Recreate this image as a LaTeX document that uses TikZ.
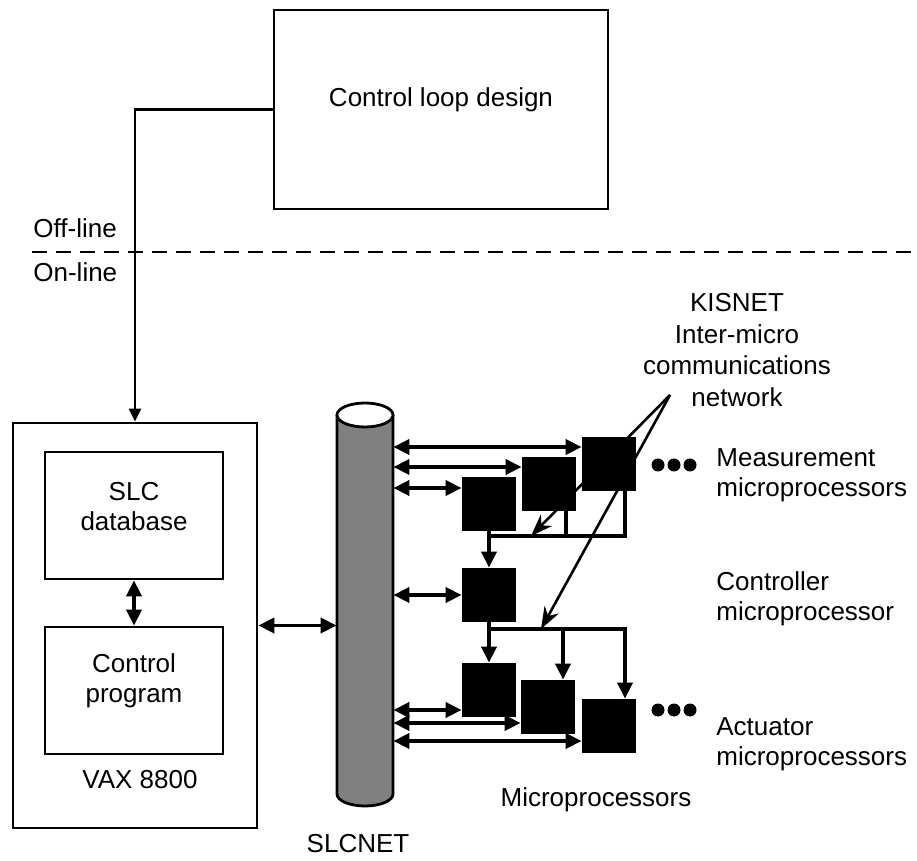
\documentclass[tikz,border=0pt]{standalone}
\usepackage{fontspec}
\setmainfont{Liberation Sans}
\usetikzlibrary{arrows.meta,fit}

\begin{document}
\begin{tikzpicture}[x=0.5pt, y=-0.5pt, font=\fontsize{13}{15}\selectfont,
  >={Triangle[length=8pt, width=7.5pt]}]
\useasboundingbox (0,0) rectangle (917,861);

\coordinate (KisnetTip) at (670,395);
\coordinate (MeasTap) at (531,536);
\coordinate (CtrlTap) at (541,629);
\coordinate (MeasBus) at (489,536);
\coordinate (CtrlBus) at (489,629);
\coordinate (SplitL) at (32,252);
\coordinate (SplitR) at (917,252);


\draw[line width=1.2pt, dash pattern=on 7.5pt off 4.5pt] (SplitL) -- (SplitR);
\draw[line width=1.3pt, -{Stealth[length=11pt, width=8pt]}] (KisnetTip) -- (MeasTap);
\draw[line width=1.3pt, -{Stealth[length=11pt, width=8pt]}] (KisnetTip) -- (CtrlTap);


\tikzset{BoxStyle/.style = {draw, line width=1.4pt, inner sep=0pt, align=center} }

\node[BoxStyle, fit={(274,10) (608,209)}] (Design) {Control loop design};
\node[BoxStyle, fit={(13,423) (257,828)}] (Vax) {};
\node[BoxStyle, fit={(45,452) (223,579)}] (Db) {SLC\\database};
\node[BoxStyle, fit={(45,627) (223,754)}] (Prog) {Control\\program};

\draw[line width=1.4pt, fill=black!50] (337,415) -- (337,794)
  arc[start angle=180, end angle=0, x radius=28, y radius=12] -- (393,415);
\draw[line width=1.4pt, fill=white] (365,415) ellipse[x radius=28, y radius=12];
\node[inner sep=0pt, fit={(337,415) (393,794)}] (Slcnet) {};


\tikzset{ChipStyle/.style = {
 fill = black,
 inner sep = 0pt,
 minimum size = 27pt} }

\node[ChipStyle] (Meas1) at (609,464) {};
\node[ChipStyle] (Meas2) at (549,484) {};
\node[ChipStyle] (Meas3) at (489,504) {};
\node[ChipStyle] (Ctrl) at (489,595) {};
\node[ChipStyle] (Act1) at (489,690) {};
\node[ChipStyle] (Act2) at (548,707) {};
\node[ChipStyle] (Act3) at (609,726) {};


\tikzset{DuplexStyle/.style = {line width=1.9pt, <->} }
\tikzset{WireStyle/.style = {line width=1.9pt} }

\draw[line width=1.2pt, -{Triangle[length=6.5pt, width=6pt]}] (Design.west) -| (Vax.north);
\draw[ DuplexStyle] (Db.south) -- (Prog.north);
\draw[ DuplexStyle] (Vax.east) -- (Vax.east -| Slcnet.west);

\draw[ DuplexStyle] ([yshift=8.5pt]Meas1.west -| Slcnet.east) -- ([yshift=8.5pt]Meas1.west);
\draw[ DuplexStyle] ([yshift=8.5pt]Meas2.west -| Slcnet.east) -- ([yshift=8.5pt]Meas2.west);
\draw[ DuplexStyle] ([yshift=8pt]Meas3.west -| Slcnet.east) -- ([yshift=8pt]Meas3.west);
\draw[ DuplexStyle] (Ctrl.west -| Slcnet.east) -- (Ctrl.west);
\draw[ DuplexStyle] ([yshift=-10pt]Act1.west -| Slcnet.east) -- ([yshift=-10pt]Act1.west);
\draw[ DuplexStyle] ([yshift=-8pt]Act2.west -| Slcnet.east) -- ([yshift=-8pt]Act2.west);
\draw[ DuplexStyle] ([yshift=-7.5pt]Act3.west -| Slcnet.east) -- ([yshift=-7.5pt]Act3.west);

\draw[ WireStyle] ([xshift=8pt]Meas1.south) |- (MeasBus);
\draw[ WireStyle] ([xshift=8.5pt]Meas2.south) -- ([xshift=8.5pt]Meas2.south |- MeasBus);
\draw[ WireStyle] (Meas3.south) -- (MeasBus);
\draw[ WireStyle, ->] (MeasBus) -- (Ctrl.north);
\draw[ WireStyle] (Ctrl.south) -- (CtrlBus);
\draw[ WireStyle, ->] (CtrlBus) -- (Act1.north);
\draw[ WireStyle, ->] (CtrlBus) -| ([xshift=8pt]Act3.north);
\draw[ WireStyle, ->] ([xshift=7.5pt]Act2.north |- CtrlBus) -- ([xshift=7.5pt]Act2.north);

\foreach \x in {658,674,690} {
  \fill (\x,465) circle[radius=6.5];
  \fill (\x,710) circle[radius=6.5];
}


\tikzset{TextStyle/.style = {inner sep=0pt, align=left} }

\node[TextStyle, anchor=base west] (OffLine) at (33,238) {Off-line};
\node[TextStyle, anchor=base west] (OnLine) at (33,282) {On-line};
\node[TextStyle] (VaxName) at (140,780) {VAX 8800};
\node[TextStyle] (SlcnetName) at (358,844) {SLCNET};
\node[TextStyle, align=center, font=\fontsize{13}{15.7}\selectfont] (Kisnet) at (737,350)
  {KISNET\\Inter-micro\\communications\\network};
\node[TextStyle, anchor=west] (MeasName) at (716,475) {Measurement\\microprocessors};
\node[TextStyle, anchor=west] (CtrlName) at (716,599) {Controller\\microprocessor};
\node[TextStyle, anchor=west] (ActName) at (716,744) {Actuator\\microprocessors};
\node[TextStyle] (MicroName) at (596,800) {Microprocessors};

\end{tikzpicture}
\end{document}
